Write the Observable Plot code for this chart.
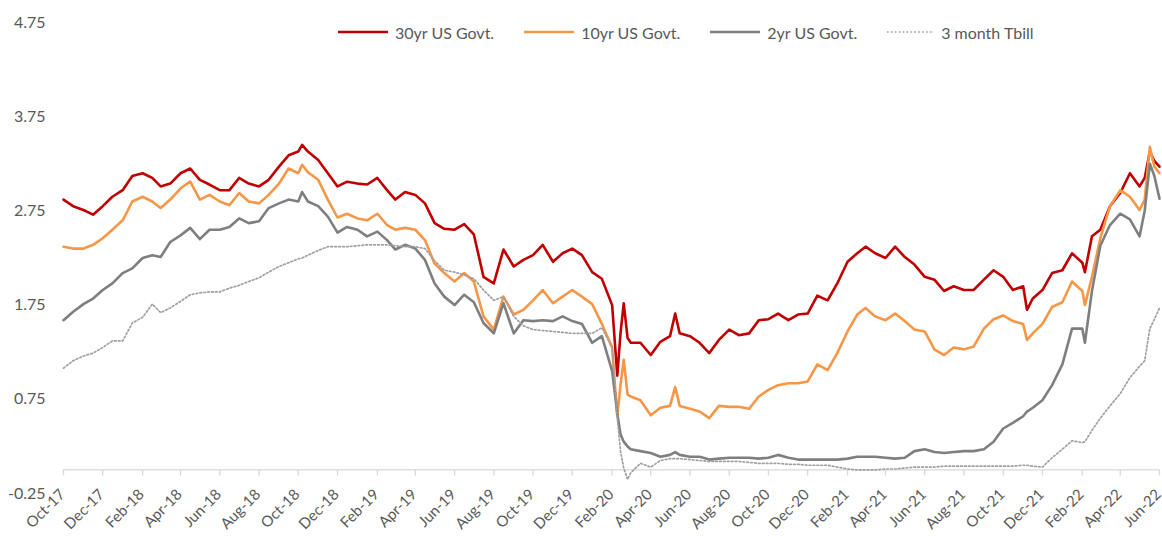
<!DOCTYPE html>
<html>
<head>
<meta charset="utf-8">
<script src="https://cdn.jsdelivr.net/npm/d3@7"></script>
<script src="https://cdn.jsdelivr.net/npm/@observablehq/plot@0.6"></script>
<style>
  body { margin: 0; background: #fff; }
  #wrap { position: relative; width: 1162px; height: 536px; font-family: "Liberation Sans Narrow", "Lato", sans-serif; }
  #wrap svg.chart { display: block; position: absolute; left: 0; top: 0; }
  #legend { position: absolute; left: 338px; top: 22px; height: 20px; display: flex; align-items: center; gap: 30px; font-size: 16px; color: #595959; white-space: nowrap; }
  #legend .item { display: flex; align-items: center; gap: 7px; }
  #legend svg { display: block; }
</style>
</head>
<body>
<div id="wrap"></div>
<script>
// ---- data ----
const dates = [
  "2017-10-01","2017-10-16","2017-11-01","2017-11-16","2017-12-01","2017-12-16",
  "2018-01-01","2018-01-16","2018-02-01","2018-02-16","2018-03-01","2018-03-16",
  "2018-04-01","2018-04-16","2018-05-01","2018-05-16","2018-06-01","2018-06-16",
  "2018-07-01","2018-07-16","2018-08-01","2018-08-16","2018-09-01","2018-09-16",
  "2018-10-01","2018-10-07","2018-10-16","2018-11-01","2018-11-16","2018-12-01","2018-12-16",
  "2019-01-01","2019-01-16","2019-02-01","2019-02-16","2019-03-01","2019-03-16",
  "2019-04-01","2019-04-16","2019-05-01","2019-05-16","2019-06-01","2019-06-16",
  "2019-07-01","2019-07-16","2019-08-01","2019-08-16","2019-09-01","2019-09-16",
  "2019-10-01","2019-10-16","2019-11-01","2019-11-16","2019-12-01","2019-12-16",
  "2020-01-01","2020-01-16","2020-02-01","2020-02-09","2020-02-14","2020-02-19","2020-02-25",
  "2020-03-01","2020-03-16","2020-04-01","2020-04-16","2020-05-01","2020-05-09","2020-05-16",
  "2020-06-01","2020-06-16","2020-07-01","2020-07-16","2020-08-01","2020-08-16",
  "2020-09-01","2020-09-16","2020-10-01","2020-10-16","2020-11-01","2020-11-16",
  "2020-12-01","2020-12-16",
  "2021-01-01","2021-01-16","2021-02-01","2021-02-16","2021-03-01","2021-03-16",
  "2021-04-01","2021-04-16","2021-05-01","2021-05-16","2021-06-01","2021-06-16",
  "2021-07-01","2021-07-16","2021-08-01","2021-08-16","2021-09-01","2021-09-16",
  "2021-10-01","2021-10-16","2021-11-01","2021-11-07","2021-11-16","2021-12-01","2021-12-16",
  "2022-01-01","2022-01-16","2022-02-01","2022-02-05","2022-02-16","2022-03-01","2022-03-16",
  "2022-04-01","2022-04-16","2022-05-01","2022-05-09","2022-05-17","2022-05-24","2022-06-01"
];

const us30 = [
  2.87,2.80,2.76,2.71,2.80,2.90,
  2.97,3.12,3.15,3.10,3.01,3.04,
  3.15,3.20,3.08,3.03,2.97,2.97,
  3.10,3.04,3.01,3.08,3.22,3.34,
  3.38,3.45,3.38,3.29,3.15,3.01,3.06,
  3.04,3.03,3.10,2.97,2.87,2.95,
  2.92,2.83,2.62,2.56,2.55,2.61,
  2.50,2.05,1.98,2.34,2.16,2.23,
  2.28,2.39,2.21,2.30,2.35,2.28,
  2.10,2.03,1.75,1.00,1.45,1.77,1.40,
  1.35,1.35,1.22,1.36,1.42,1.66,1.45,
  1.42,1.35,1.24,1.38,1.49,1.43,
  1.45,1.59,1.60,1.66,1.59,1.65,
  1.66,1.85,
  1.80,1.98,2.21,2.30,2.37,2.30,
  2.25,2.37,2.26,2.18,2.05,2.02,
  1.90,1.95,1.91,1.91,2.02,2.12,
  2.05,1.91,1.95,1.70,1.82,1.91,2.09,
  2.12,2.30,2.20,2.10,2.48,2.55,2.80,
  2.94,3.15,3.01,3.10,3.38,3.28,3.22
];

const us10 = [
  2.37,2.35,2.35,2.39,2.46,2.55,
  2.65,2.85,2.90,2.85,2.78,2.87,
  2.99,3.06,2.87,2.92,2.85,2.81,
  2.94,2.85,2.83,2.92,3.04,3.20,
  3.15,3.24,3.16,3.08,2.87,2.68,2.72,
  2.67,2.65,2.72,2.60,2.55,2.57,
  2.55,2.44,2.19,2.09,2.00,2.09,
  2.00,1.63,1.49,1.84,1.65,1.70,
  1.80,1.91,1.77,1.84,1.91,1.84,
  1.76,1.55,1.30,0.57,0.90,1.17,0.80,
  0.78,0.74,0.58,0.66,0.68,0.88,0.68,
  0.65,0.62,0.55,0.68,0.67,0.67,
  0.65,0.78,0.85,0.90,0.92,0.92,
  0.94,1.12,
  1.06,1.24,1.47,1.65,1.72,1.63,
  1.59,1.66,1.58,1.49,1.47,1.28,
  1.22,1.30,1.28,1.31,1.50,1.60,
  1.64,1.58,1.55,1.38,1.45,1.55,1.73,
  1.78,2.00,1.90,1.75,2.05,2.46,2.80,
  2.97,2.90,2.76,2.87,3.43,3.22,3.15
];

const us2 = [
  1.59,1.68,1.76,1.82,1.91,1.98,
  2.09,2.14,2.25,2.28,2.26,2.42,
  2.49,2.57,2.45,2.55,2.55,2.58,
  2.67,2.62,2.64,2.78,2.83,2.87,
  2.85,2.95,2.85,2.80,2.69,2.52,2.58,
  2.55,2.48,2.53,2.44,2.34,2.39,
  2.35,2.23,1.98,1.84,1.75,1.86,
  1.78,1.56,1.45,1.77,1.45,1.59,
  1.58,1.59,1.58,1.63,1.58,1.55,
  1.35,1.42,1.05,0.60,0.38,0.30,0.25,
  0.22,0.20,0.18,0.14,0.16,0.19,0.16,
  0.14,0.14,0.11,0.12,0.13,0.13,
  0.13,0.12,0.13,0.16,0.13,0.11,
  0.11,0.11,
  0.11,0.11,0.12,0.14,0.14,0.14,
  0.13,0.12,0.13,0.20,0.22,0.19,
  0.18,0.19,0.20,0.20,0.22,0.30,
  0.44,0.50,0.57,0.62,0.66,0.74,0.90,
  1.12,1.50,1.50,1.35,1.90,2.38,2.60,
  2.72,2.66,2.48,2.75,3.25,3.12,2.88
];

const tbill3m = [
  1.08,1.16,1.21,1.24,1.30,1.37,
  1.37,1.56,1.62,1.76,1.67,1.72,
  1.79,1.86,1.88,1.89,1.89,1.93,
  1.96,2.00,2.04,2.10,2.16,2.20,
  2.24,2.25,2.28,2.33,2.37,2.37,2.37,
  2.38,2.39,2.39,2.39,2.38,2.37,
  2.37,2.35,2.22,2.12,2.10,2.07,
  2.03,1.91,1.80,1.84,1.63,1.53,
  1.49,1.48,1.47,1.46,1.45,1.45,
  1.45,1.51,1.30,0.55,0.20,0.02,-0.10,
  -0.03,0.07,0.03,0.10,0.12,0.12,0.12,
  0.11,0.10,0.09,0.09,0.09,0.09,
  0.08,0.07,0.07,0.07,0.06,0.06,
  0.05,0.05,
  0.05,0.03,0.01,0.00,0.00,0.00,
  0.01,0.01,0.02,0.03,0.03,0.03,
  0.04,0.04,0.04,0.04,0.04,0.04,
  0.04,0.04,0.05,0.05,0.04,0.03,0.13,
  0.22,0.31,0.29,0.30,0.42,0.55,0.68,
  0.81,0.98,1.10,1.16,1.50,1.60,1.72
];

const seriesNames  = ["30yr US Govt.", "10yr US Govt.", "2yr US Govt.", "3 month Tbill"];
const seriesColors = ["#C00000", "#F79646", "#7F7F7F", "#A0A0A0"];

const yTicks = [-0.25, 0.75, 1.75, 2.75, 3.75, 4.75];
const xTicks = [
  "2017-10-01","2017-12-01","2018-02-01","2018-04-01","2018-06-01","2018-08-01",
  "2018-10-01","2018-12-01","2019-02-01","2019-04-01","2019-06-01","2019-08-01",
  "2019-10-01","2019-12-01","2020-02-01","2020-04-01","2020-06-01","2020-08-01",
  "2020-10-01","2020-12-01","2021-02-01","2021-04-01","2021-06-01","2021-08-01",
  "2021-10-01","2021-12-01","2022-02-01","2022-04-01","2022-06-01"
].map(d => new Date(d));

// ---- build ----
const rows = dates.map((d, i) => ({date: new Date(d), us30: us30[i], us10: us10[i], us2: us2[i], tb: tbill3m[i]}));
const fmtX = d3.utcFormat("%b-%y");
const font = '"Liberation Sans Narrow", "Lato", sans-serif';

const chart = Plot.plot({
  width: 1162,
  height: 536,
  marginLeft: 63,
  marginRight: 3,
  marginTop: 22,
  marginBottom: 43,
  style: {fontFamily: font, fontSize: "16px", color: "#595959", background: "#fff", overflow: "visible"},
  x: {type: "utc", domain: [new Date("2017-10-01"), new Date("2022-06-01")], axis: null},
  y: {domain: [-0.25, 4.75], ticks: yTicks, tickFormat: d => d.toFixed(2), tickSize: 0, tickPadding: 18, label: null},
  marks: [
    Plot.ruleY([0], {stroke: "#D9D9D9", strokeWidth: 1.3}),
    Plot.ruleX(xTicks, {x: d => d, y1: 0, y2: 0, insetBottom: -6, stroke: "#D9D9D9", strokeWidth: 1.3}),
    Plot.text(xTicks, {x: d => d, y: 0, text: d => fmtX(d), rotate: -45, textAnchor: "end", lineAnchor: "middle", dx: -1, dy: 22, fontSize: 15, fill: "#595959"}),
    Plot.line(rows, {x: "date", y: "us30", stroke: seriesColors[0], strokeWidth: 2.6}),
    Plot.line(rows, {x: "date", y: "us10", stroke: seriesColors[1], strokeWidth: 2.6}),
    Plot.line(rows, {x: "date", y: "us2", stroke: seriesColors[2], strokeWidth: 2.6}),
    Plot.line(rows, {x: "date", y: "tb", stroke: seriesColors[3], strokeWidth: 1.7, strokeDasharray: "1.7 2.2"})
  ]
});
chart.classList.add("chart");
const wrap = document.getElementById("wrap");
wrap.appendChild(chart);

// ---- legend ----
const legend = document.createElement("div");
legend.id = "legend";
seriesNames.forEach((name, i) => {
  const item = document.createElement("div");
  item.className = "item";
  const dotted = i === 3;
  const w = dotted ? 47 : 50;
  item.innerHTML =
    `<svg width="${w}" height="6"><line x1="0" y1="3" x2="${w}" y2="3" stroke="${seriesColors[i]}" stroke-width="${dotted ? 1.7 : 2.6}" ${dotted ? 'stroke-dasharray="1.7 2.2"' : ''}/></svg>` +
    `<span>${name}</span>`;
  legend.appendChild(item);
});
wrap.appendChild(legend);
</script>
</body>
</html>
